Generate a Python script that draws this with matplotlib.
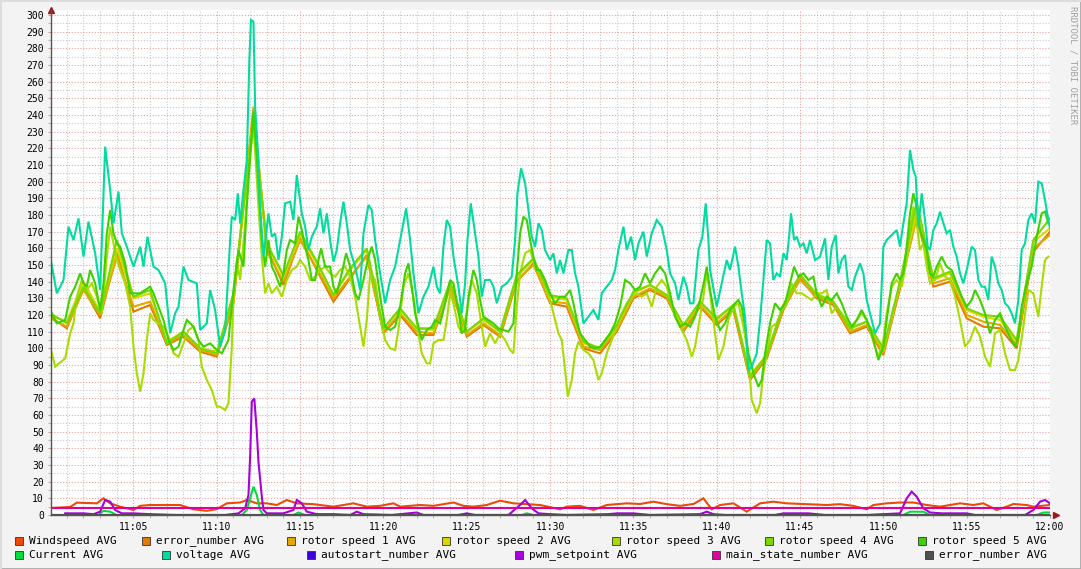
import numpy as np
import pandas as pd
import matplotlib
matplotlib.use("Agg")
import matplotlib.pyplot as plt
import matplotlib.dates as mdates
from matplotlib.patches import Rectangle
from matplotlib.lines import Line2D

# minutes after 11:00 for every sample
T0 = pd.Timestamp("2024-01-01 11:00")

# voltage AVG
volt_t = [0, 0.4, 0.8, 1.1, 1.4, 1.7, 2.0, 2.3, 2.7, 3.0, 3.3, 3.6, 3.8, 4.1, 4.3, 4.6,
          5.0, 5.4, 5.6, 5.84, 6.2, 6.5, 6.9, 7.2, 7.5, 7.7, 8.0, 8.3, 8.8, 9.0, 9.4, 9.6,
          9.9, 10.2, 10.5, 10.8, 10.9, 11.1, 11.26, 11.4, 11.6, 11.8, 11.95, 12.05, 12.2, 12.3, 12.45,
          12.6, 12.8, 13.1, 13.3, 13.5, 13.7, 13.9, 14.1, 14.4, 14.6, 14.8, 15.1, 15.3, 15.5, 15.7,
          16.0, 16.2, 16.4, 16.6, 16.8, 17.0, 17.2, 17.4, 17.6, 17.8, 18.0, 18.3, 18.6, 18.8, 19.1,
          19.3, 19.5,
          19.8, 20.1, 20.4, 20.7, 21.0, 21.36, 21.6, 21.8, 22.1, 22.4, 22.7, 23.0, 23.2, 23.4, 23.6,
          23.8, 24.0, 24.2, 24.5, 24.7, 24.9, 25.04, 25.24, 25.5, 25.7, 25.9, 26.1, 26.4, 26.6, 26.8,
          27.1, 27.4, 27.7, 27.9, 28.04, 28.26, 28.5, 28.7, 28.9, 29.1, 29.3, 29.5,
          29.7, 30.0, 30.2, 30.4, 30.6, 30.8, 31.1, 31.3, 31.5, 31.7, 32.0, 32.3, 32.6, 32.9, 33.1,
          33.4, 33.7, 33.9, 34.1, 34.4, 34.6, 34.86, 35.1, 35.3, 35.6, 35.8, 36.1, 36.4, 36.7, 37.0,
          37.2, 37.5, 37.7, 38.0, 38.2, 38.4, 38.6, 38.9, 39.14, 39.34, 39.5,
          39.6, 40.0, 40.3, 40.6, 40.8, 41.1, 41.3, 41.5, 41.7, 41.9, 42.1, 42.4, 42.6, 42.8, 43.0,
          43.2, 43.4, 43.6, 43.8, 44.0, 44.2, 44.36, 44.46, 44.64, 44.8, 45.0, 45.2, 45.4, 45.6, 45.9,
          46.2, 46.5, 46.7, 46.9, 47.14, 47.3, 47.5, 47.7, 47.9, 48.1, 48.3, 48.6, 48.8, 49.0, 49.3,
          49.5, 49.8, 50.0, 50.2, 50.4, 50.6, 50.8, 51.0, 51.2, 51.4, 51.6, 51.8, 51.94, 52.1, 52.3,
          52.5, 52.66, 52.8, 53.0, 53.2, 53.4, 53.6, 53.8, 54.0, 54.2, 54.4, 54.6, 54.8, 55.0, 55.3,
          55.5, 55.7, 55.9, 56.1, 56.3, 56.5, 56.7, 56.9, 57.1, 57.3, 57.5, 57.7, 57.9, 58.1, 58.3,
          58.5, 58.7, 58.9, 59.1, 59.3, 59.5, 59.7, 59.9, 60.0]
volt = [155, 133, 141, 173, 165, 178, 155, 176, 157, 135, 221, 195, 175, 194, 169, 161,
        149, 161, 149, 167, 149, 147, 139, 109, 121, 125, 149, 141, 139, 111, 115, 135,
        123, 101, 111, 165, 179, 177, 193, 175, 195, 213, 272, 297, 296, 245, 221,
        185, 155, 181, 167, 169, 153, 167, 187, 188, 177, 204, 181, 173, 159, 167,
        173, 184, 169, 181, 165, 152, 159, 175, 188, 175, 159, 149, 135, 169, 186,
        183, 165,
        145, 127, 141, 149, 165, 184, 165, 145, 121, 131, 137, 149, 137, 133, 161,
        177, 173, 155, 137, 121, 139, 165, 187, 169, 155, 131, 141, 141, 137, 127,
        137, 139, 143, 165, 193, 208, 199, 183, 167, 161, 175, 171,
        159, 153, 157, 145, 153, 145, 159, 159, 145, 137, 115, 119, 123, 117, 133,
        137, 141, 147, 159, 173, 159, 167, 153, 163, 170, 155, 169, 177, 173, 159,
        145, 139, 129, 143, 137, 127, 127, 159, 167, 187, 165,
        147, 125, 139, 153, 147, 161, 149, 133, 119, 87, 89, 97, 117, 141, 165,
        163, 141, 145, 143, 157, 153, 169, 181, 165, 167, 161, 163, 157, 165, 153,
        155, 166, 141, 161, 168, 145, 153, 156, 137, 135, 143, 151, 145, 129, 117,
        109, 115, 161, 165, 167, 169, 171, 161, 175, 187, 219, 207, 203, 173, 193,
        177, 161, 159, 171, 175, 182, 175, 169, 171, 161, 155, 145, 139, 147, 161,
        159, 141, 137, 137, 129, 155, 149, 139, 135, 127, 125, 121, 115, 129, 159,
        163, 177, 181, 175, 200, 199, 189, 177, 172]

# rotor speed 5 AVG
rot5_t = [0, 0.4, 0.9, 1.2, 1.5, 1.8, 2.0, 2.2, 2.4, 2.7, 3.0, 3.2, 3.4, 3.6, 3.8, 4.0, 4.2, 4.5,
          4.8, 5.1, 5.4, 5.7, 6.0, 6.2, 6.5, 6.8, 7.1, 7.4, 7.7, 8.0, 8.2, 8.6, 8.9, 9.2, 9.6, 10.0,
          10.3, 10.7, 11.0, 11.3, 11.6, 11.8, 12.0, 12.2, 12.4, 12.7, 12.9, 13.1, 13.3, 13.5, 13.8,
          14.0, 14.2, 14.4, 14.7, 14.9, 15.1, 15.3, 15.5, 15.7, 15.9, 16.1, 16.26, 16.5, 16.8, 17.0,
          17.2, 17.5, 17.76, 18.0, 18.3, 18.5, 18.8, 19.1, 19.3, 19.5, 19.8,
          20.1, 20.4, 20.7, 21.0, 21.3, 21.5, 21.7, 21.9, 22.1, 22.3, 22.6, 22.9, 23.1, 23.4, 23.7,
          24.0, 24.2, 24.5, 24.7, 24.9, 25.1, 25.4, 25.6, 25.8, 26.0, 26.3, 26.6, 26.9, 27.2, 27.5,
          27.8, 28.0, 28.2, 28.4, 28.6, 28.8, 29.0, 29.2, 29.4, 29.7,
          30.0, 30.3, 30.6, 30.9, 31.2, 31.4, 31.6, 31.8, 32.1, 32.4, 32.7, 33.0, 33.3, 33.6, 33.9,
          34.2, 34.5, 34.8, 35.1, 35.4, 35.7, 36.0, 36.3, 36.6, 36.9, 37.2, 37.5, 37.8, 38.1, 38.4,
          38.7, 39.0, 39.26, 39.4, 39.6,
          39.9, 40.2, 40.5, 40.8, 41.1, 41.3, 41.5, 41.7, 41.9, 42.2, 42.5, 42.7, 42.9, 43.2, 43.5,
          43.8, 44.1, 44.4, 44.64, 44.9, 45.2, 45.5, 45.8, 46.0, 46.3, 46.6, 46.9, 47.2, 47.5, 47.8,
          48.1, 48.4, 48.7, 49.0, 49.3, 49.5,
          49.7, 50.0, 50.2, 50.5, 50.8, 51.0, 51.2, 51.4, 51.6, 51.8, 52.0, 52.2, 52.4, 52.6, 52.8,
          53.0, 53.2, 53.5, 53.8, 54.1, 54.4, 54.7, 55.0, 55.3, 55.5, 55.8, 56.1, 56.4, 56.7, 57.0,
          57.3, 57.6, 57.9, 58.1, 58.3, 58.6, 58.9, 59.2, 59.5, 59.7, 59.9]
rot5 = [123, 115, 117, 131, 137, 145, 139, 137, 147, 139, 123, 139, 169, 183, 169, 163, 161, 151,
        133, 133, 133, 135, 137, 133, 125, 117, 105, 99, 101, 111, 117, 113, 105, 101, 103, 99,
        97, 105, 135, 159, 149, 185, 215, 242, 215, 165, 149, 165, 149, 145, 137,
        145, 159, 165, 163, 179, 171, 161, 153, 141, 141, 153, 160, 149, 149, 137,
        133, 145, 157, 149, 133, 129, 141, 155, 161, 153, 131,
        113, 111, 113, 125, 145, 151, 137, 121, 113, 105, 111, 113, 117, 115, 127,
        141, 139, 123, 109, 111, 131, 147, 141, 129, 119, 117, 115, 112, 111, 110,
        115, 145, 169, 179, 177, 165, 155, 147, 147, 141,
        133, 127, 131, 131, 135, 127, 117, 109, 105, 101, 100, 101, 105, 109, 115,
        125, 141, 139, 135, 137, 145, 139, 145, 149, 145, 133, 119, 113, 115, 113,
        119, 129, 141, 149, 135,
        119, 111, 115, 123, 127, 129, 125, 113, 97, 85, 77, 81, 97, 115, 127,
        123, 127, 139, 149, 143, 145, 141, 143, 133, 125, 131, 129, 133, 127, 119,
        113, 117, 123, 117, 109, 101,
        93, 101, 117, 139, 145, 141, 145, 161, 181, 193, 185, 171, 165, 159, 145,
        143, 149, 155, 149, 147, 139, 131, 125, 129, 135, 129, 121, 109, 117, 121,
        113, 107, 101, 107, 125, 139, 149, 167, 181, 182, 175]

# rotor speed 3 AVG
rot3_t = [0, 0.3, 0.9, 1.2, 1.4, 1.6, 1.9, 2.2, 2.5, 2.8, 3.1, 3.4, 3.6, 3.8, 4.0, 4.2, 4.5, 4.8,
          5.0, 5.2, 5.4, 5.6, 5.8, 6.0, 6.2, 6.5, 6.8, 7.1, 7.4, 7.7, 8.0, 8.3, 8.6, 8.9, 9.1, 9.4,
          9.7, 10.0,
          10.2, 10.5, 10.7, 10.9, 11.0, 11.2, 11.4, 11.7, 11.9, 12.2, 12.5, 12.7, 12.9, 13.1, 13.3,
          13.6, 13.9, 14.2, 14.5, 14.8, 15.0, 15.3, 15.6, 15.9, 16.2, 16.5, 16.8, 17.1, 17.4, 17.7,
          18.0, 18.3, 18.6, 18.8, 19.0, 19.2, 19.5, 19.8,
          20.1, 20.4, 20.7, 20.9, 21.2, 21.5, 21.8, 22.1, 22.3, 22.6, 22.8, 23.0, 23.3, 23.6, 23.8,
          24.0, 24.2, 24.5, 24.7, 25.0, 25.3, 25.6, 25.9, 26.1, 26.4, 26.7, 27.0, 27.3, 27.6, 27.8,
          28.0, 28.2, 28.5, 28.8, 29.1, 29.4, 29.7,
          30.0, 30.3, 30.5, 30.7, 30.9, 31.06, 31.3, 31.5, 31.7, 32.0, 32.3, 32.6, 32.9, 33.1, 33.4,
          33.7, 34.0, 34.3, 34.6, 34.9, 35.2, 35.5, 35.8, 36.1, 36.4, 36.7, 37.0, 37.3, 37.6, 37.9,
          38.2, 38.5, 38.7, 38.9, 39.2, 39.4, 39.6,
          39.9, 40.1, 40.4, 40.7, 41.0, 41.3, 41.6, 41.9, 42.1, 42.4, 42.6, 42.8, 43.0, 43.3, 43.6,
          43.9, 44.2, 44.5, 44.8, 45.1, 45.4, 45.7, 46.0, 46.3, 46.6, 46.9, 47.2, 47.5, 47.8, 48.1,
          48.4, 48.7, 49.0, 49.3, 49.5,
          49.7, 50.0, 50.2, 50.5, 50.8, 51.1, 51.4, 51.6, 51.8, 52.0, 52.2, 52.4, 52.6, 52.8, 53.1,
          53.4, 53.7, 54.0, 54.3, 54.6, 54.9, 55.2, 55.5, 55.8, 56.1, 56.4, 56.7, 57.0, 57.3, 57.6,
          57.9, 58.1, 58.4, 58.7, 59.0, 59.3, 59.5, 59.7, 59.9]
rot3 = [101, 89, 94, 109, 115, 131, 141, 135, 139, 131, 121, 155, 173, 163, 153, 147, 139, 125,
        101, 85, 74, 85, 105, 121, 117, 115, 113, 107, 97, 95, 103, 111, 113, 105, 89, 81,
        75, 65,
        65, 63, 67, 101, 131, 153, 141, 175, 205, 235, 185, 155, 133, 139, 133,
        137, 131, 141, 147, 149, 153, 149, 141, 143, 147, 149, 145, 143, 147, 149,
        143, 131, 113, 101, 117, 145, 141, 119,
        105, 100, 99, 111, 137, 145, 131, 109, 97, 91, 91, 103, 105, 105, 117,
        133, 127, 113, 109, 121, 141, 133, 113, 101, 109, 103, 109, 105, 99, 97,
        125, 145, 157, 159, 149, 145, 137,
        129, 117, 109, 105, 87, 71, 81, 97, 104, 99, 97, 93, 81, 85, 97,
        105, 113, 121, 127, 131, 133, 131, 133, 125, 137, 141, 137, 125, 117, 111,
        105, 95, 101, 113, 131, 145, 133,
        109, 93, 101, 117, 125, 127, 113, 95, 69, 61, 67, 85, 97, 113, 115,
        123, 127, 139, 133, 133, 131, 129, 133, 133, 135, 121, 125, 121, 117, 111,
        117, 121, 117, 107, 101,
        95, 105, 121, 137, 141, 137, 153, 171, 185, 175, 159, 163, 149, 139, 141,
        151, 143, 141, 131, 117, 101, 105, 113, 107, 95, 89, 109, 111, 97, 87,
        87, 93, 113, 135, 133, 119, 137, 153, 155]

# rotor speed 1, 2, 4 and error_number (orange), one value per minute
min_t = [0, 1, 2, 3, 4, 5, 6, 7, 8, 9, 10, 11, 12.2, 13, 14, 15, 16, 17, 18, 19,
         20, 21, 22, 23, 24, 25, 26, 27, 28, 29, 30, 31, 32, 33, 34, 35, 36, 37, 38, 39,
         40, 41, 42, 43, 44, 45, 46, 47, 48, 49, 50, 51, 52, 53, 54, 55, 56, 57, 58, 59, 60]
rot1 = [118, 113, 135, 120, 155, 125, 128, 103, 108, 99, 96, 128, 245, 158, 140, 165, 148, 130, 143, 155,
        110, 121, 110, 109, 136, 108, 115, 108, 141, 150, 128, 127, 101, 99, 111, 131, 136, 131, 111, 126,
        115, 124, 82, 95, 124, 141, 131, 127, 110, 114, 97, 137, 178, 139, 142, 120, 116, 114, 102, 160, 168]
rot2 = [120, 116, 140, 122, 160, 130, 133, 104, 110, 100, 98, 132, 238, 162, 143, 168, 151, 132, 147, 159,
        112, 123, 112, 111, 139, 110, 117, 110, 143, 153, 131, 129, 103, 100, 113, 133, 138, 132, 113, 128,
        117, 126, 84, 96, 126, 144, 133, 128, 112, 116, 99, 139, 182, 141, 145, 123, 119, 117, 104, 164, 172]
rot4 = [121, 115, 137, 121, 165, 131, 135, 103, 110, 100, 97, 133, 236, 163, 144, 170, 152, 132, 148, 160,
        112, 124, 112, 112, 140, 110, 118, 110, 144, 154, 132, 130, 104, 100, 114, 134, 138, 132, 114, 128,
        118, 126, 83, 96, 126, 144, 132, 128, 112, 116, 100, 140, 188, 142, 146, 124, 120, 119, 105, 165, 178]
errnum_o = [119, 112, 136, 118, 158, 122, 126, 102, 107, 98, 95, 127, 242, 160, 138, 166, 147, 128, 142, 156,
            109, 120, 108, 108, 137, 107, 114, 107, 140, 151, 127, 125, 100, 97, 110, 130, 135, 130, 110, 125,
            114, 123, 81, 94, 123, 142, 130, 126, 109, 113, 96, 136, 180, 137, 140, 118, 113, 112, 100, 158, 170]

# Windspeed AVG
wind_t = [0, 1.2, 1.6, 2.8, 3.2, 3.6, 4.2, 5.0, 5.4, 6.0,
          7.0, 7.8, 8.6, 9.4, 10.0, 10.6, 11.4, 11.8, 12.4, 13.0,
          13.6, 14.2, 14.8, 15.8, 17.0, 18.2, 19.0, 19.8, 20.6, 21.0,
          22.2, 23.0, 24.2, 24.8, 25.4, 26.2, 27.0, 27.8, 29.4, 30.6,
          31.0, 31.8, 32.6, 33.4, 34.6, 35.4, 36.2, 37.0, 37.8, 38.6,
          39.2, 39.7, 40.2, 41.0, 41.8, 42.6, 43.4, 44.2, 45.4, 46.6,
          47.4, 48.2, 49.0, 49.4, 50.2, 51.0, 51.8, 52.6, 53.4, 54.6,
          55.4, 56.0, 56.8, 57.4, 57.8, 58.6, 59.0, 60.0]
wind = [4.2, 4.8, 7.4, 7, 10, 7, 5, 3, 5.5, 6,
        6, 6, 3.4, 2.5, 3.5, 7, 7.5, 9, 7, 7,
        6, 9, 7, 6.5, 5, 7, 5, 5.5, 7, 5,
        6, 5.5, 7.5, 5.5, 5, 6, 8.6, 7, 6, 3.4,
        5, 5.5, 3, 6, 7, 6.6, 8, 6.5, 5.5, 6.6,
        10, 3.4, 6, 7, 2, 7, 8, 7, 6.5, 6,
        6.5, 5.5, 3.4, 6, 7, 7.5, 7.5, 6, 5, 7,
        6, 7, 3, 5, 6.6, 6, 5, 6]

# pwm_setpoint AVG
pwm_t = [0.9, 2.0, 2.6, 3.0, 3.3, 3.6, 3.9, 4.3, 5.0, 6.0,
         7.5, 9.0, 10.5, 11.3, 11.7, 11.9, 12.0, 12.1, 12.25, 12.4,
         12.5, 12.7, 12.8, 13.0, 14.0, 14.6, 14.8, 15.1, 15.4, 16.0,
         17.0, 18.0, 18.4, 18.8, 20.5, 22.0, 22.4, 24.5, 25.0, 25.5,
         27.5, 28.2, 28.5, 28.9, 29.3, 30.0, 31.0, 33.5, 34.0, 35.0,
         36.0, 39.0, 39.4, 39.8, 40.5, 43.5, 44.0, 45.5, 46.5, 49.0,
         51.0, 51.4, 51.7, 52.0, 52.4, 52.8, 53.5, 55.0, 55.5, 58.5,
         59.0, 59.4, 59.7, 60.0]
pwm = [1, 1, 0.5, 2, 9, 8, 3, 1, 1, 0.5,
       0, 0, 0, 1, 4, 12, 35, 68, 70, 50,
       32, 11, 3, 1, 1, 3, 9, 7, 2, 0.5,
       0.5, 0, 2, 0.5, 0, 1.5, 0, 0, 1, 0,
       0, 6, 9, 4, 1, 0.5, 0, 0.5, 1, 1,
       0, 0.5, 2, 0.5, 0, 0, 1, 1, 0, 0,
       1, 10, 14, 11, 4, 1.5, 1, 1, 0, 0,
       3, 8, 9, 7]

# Current AVG
cur_t = [0.9, 2.9, 3.2, 3.6, 4.0, 11.5, 11.8, 12.0, 12.2, 12.4, 12.6, 12.8, 14.6,
         14.9, 15.3, 28.3, 28.6, 29.0, 51.2, 51.6, 52.4, 52.8, 59.2, 59.6, 60.0]
cur = [0, 0, 2.5, 2, 0, 0, 3, 10, 17, 12, 3, 0, 0,
       1.5, 0, 0, 1, 0, 0, 2, 2, 0, 0, 1.5, 1.5]

# flat series
flat_t = [0, 60]
main_state = [4, 4]
autostart = [0, 0]
errnum_g = [0, 0]

colors = {
    "wind": "#EA4A0A", "err_o": "#E27A00", "r1": "#E2A800", "r2": "#D8D800",
    "r3": "#A8DC00", "r4": "#78D800", "r5": "#3CD200", "cur": "#00DC3C",
    "volt": "#00DCA0", "auto": "#3C00DC", "pwm": "#A800DC", "main": "#E000A0",
    "err_g": "#505050",
}


def ts(t):
    return T0 + pd.to_timedelta(np.asarray(t, dtype=float), unit="m")


W, H = 1081, 569
fig = plt.figure(figsize=(W / 100, H / 100), dpi=100, facecolor="#F3F3F3")
ax = fig.add_axes([51 / W, (H - 515) / H, (1050 - 51) / W, (515 - 10) / H])
ax.set_facecolor("white")

series = [
    (wind_t, wind, "wind"), (min_t, errnum_o, "err_o"), (min_t, rot1, "r1"),
    (min_t, rot2, "r2"), (rot3_t, rot3, "r3"), (min_t, rot4, "r4"),
    (rot5_t, rot5, "r5"), (cur_t, cur, "cur"), (volt_t, volt, "volt"),
    (flat_t, autostart, "auto"), (pwm_t, pwm, "pwm"), (flat_t, main_state, "main"),
    (flat_t, errnum_g, "err_g"),
]
for t, v, key in series:
    ax.plot(ts(t), v, color=colors[key], lw=1.5, solid_joinstyle="miter")

ax.set_xlim(T0 + pd.Timedelta(seconds=3), T0 + pd.Timedelta(minutes=60))
ax.set_ylim(0, 303)

ax.xaxis.set_major_locator(mdates.MinuteLocator(byminute=range(0, 60, 5)))
ax.xaxis.set_minor_locator(mdates.MinuteLocator())
ax.xaxis.set_major_formatter(mdates.DateFormatter("%H:%M"))
ax.set_yticks(np.arange(0, 301, 10))
ax.set_yticks(np.arange(0, 301, 5), minor=True)

ax.set_axisbelow(True)
ax.grid(which="minor", color="#C8C8C8", lw=0.8, ls=(0, (1, 1.6)))
ax.grid(which="major", color="#E8A0A0", lw=0.8, ls=(0, (1, 1.6)))

for lab in ax.get_xticklabels() + ax.get_yticklabels():
    lab.set_family("DejaVu Sans Mono")
    lab.set_fontsize(7)
ax.tick_params(which="both", length=2, color="#AAAAAA", pad=3)

for s in ["top", "right"]:
    ax.spines[s].set_visible(False)
for s in ["left", "bottom"]:
    ax.spines[s].set_color("#555555")
    ax.spines[s].set_linewidth(1)

ax.plot([0], [1.0], marker="^", color="#9A1A1A", ms=4, transform=ax.transAxes, clip_on=False)
ax.plot([1.006], [0], marker=">", color="#9A1A1A", ms=4, transform=ax.transAxes, clip_on=False)

# legend, RRD style
legend_rows = [
    [("Windspeed AVG", "wind"), ("error_number AVG", "err_o"), ("rotor speed 1 AVG", "r1"),
     ("rotor speed 2 AVG", "r2"), ("rotor speed 3 AVG", "r3"), ("rotor speed 4 AVG", "r4"),
     ("rotor speed 5 AVG", "r5")],
    [("Current AVG", "cur"), ("voltage AVG", "volt"), ("autostart_number AVG", "auto"),
     ("pwm_setpoint AVG", "pwm"), ("main_state_number AVG", "main"), ("error_number AVG", "err_g")],
]
row_x = [[15, 142, 287, 442, 612, 765, 918], [15, 162, 307, 515, 712, 925]]
row_y = [541, 555]
for items, xs, yc in zip(legend_rows, row_x, row_y):
    for (label, key), x0 in zip(items, xs):
        fig.patches.append(Rectangle((x0 / W, (H - yc - 4) / H), 8 / W, 8 / H,
                                     transform=fig.transFigure, facecolor=colors[key],
                                     edgecolor="#333333", lw=0.6))
        fig.text((x0 + 14) / W, (H - yc) / H, label, family="DejaVu Sans Mono",
                 fontsize=8, va="center", ha="left", color="black")

fig.text(1073 / W, 1 - 6 / H, "RRDTOOL / TOBI OETIKER", rotation=270, va="top",
         ha="center", color="#A0A0A0", fontsize=6.5, family="DejaVu Sans Mono")

# outer frame
fig.add_artist(Line2D([0, 1], [0.5 / H, 0.5 / H], transform=fig.transFigure, color="#AAAAAA", lw=2))
fig.add_artist(Line2D([1 - 0.5 / W, 1 - 0.5 / W], [0, 1], transform=fig.transFigure, color="#AAAAAA", lw=2))
fig.add_artist(Line2D([0, 1], [1 - 0.5 / H, 1 - 0.5 / H], transform=fig.transFigure, color="#DDDDDD", lw=1.5))
fig.add_artist(Line2D([0.5 / W, 0.5 / W], [0, 1], transform=fig.transFigure, color="#DDDDDD", lw=1.5))

fig.savefig("out.png", dpi=100, facecolor=fig.get_facecolor())
